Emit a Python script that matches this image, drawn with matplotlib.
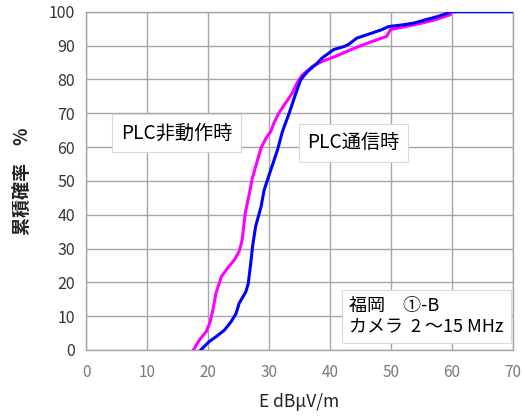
import matplotlib
matplotlib.use("Agg")
import matplotlib.pyplot as plt

plt.rcParams['font.family'] = ['Noto Sans CJK JP', 'DejaVu Sans']

# -----------------------------
# Data
# -----------------------------
off_x = [17.6, 18.6, 19.7, 20.3, 20.8, 21.3, 22.2, 23.2, 24.3, 25.1, 25.6, 26.1,
         26.8, 27.2, 27.8, 28.7, 29.5, 30.3, 30.8, 31.6, 32.7, 33.8, 34.6, 35.4,
         37.1, 38.7, 40.9, 42.8, 44.7, 46.9, 48.5, 49.3, 49.9, 52.3, 55.0, 57.2, 59.7]
off_y = [0, 3, 5.4, 8, 11.8, 16.8, 21.7, 24.2, 26.6, 29.1, 32.5, 40.4,
         46.4, 50.3, 54.2, 59.7, 62.6, 64.6, 67.1, 70, 73, 75.9, 78.9, 81.2,
         83.8, 85.3, 86.8, 88.3, 89.7, 91.2, 92.2, 92.7, 94.7, 95.6, 96.6, 97.6, 99.1]

on_x = [18.8, 20.2, 21.3, 22.7, 23.8, 24.6, 25.1, 26.2, 26.6, 27.0, 27.3, 27.8,
        28.7, 29.2, 30.3, 31.4, 32.2, 33.3, 34.4, 35.2, 36.3, 37.9, 38.7, 40.6,
        42.3, 43.1, 44.4, 46.9, 48.5, 49.6, 52.3, 53.9, 55.6, 57.7, 59.9, 70]
on_y = [0, 2.5, 3.9, 5.9, 8.4, 10.8, 13.8, 17.2, 19.7, 25.6, 30.6, 36.5,
        42.4, 47.3, 53.3, 59.2, 64.6, 70, 75.9, 79.9, 82.3, 84.8, 86.3, 88.8,
        89.7, 90.4, 92.2, 93.7, 94.7, 95.6, 96.2, 96.7, 97.6, 98.6, 100, 100]

x_ticks = [0, 10, 20, 30, 40, 50, 60, 70]
y_ticks = [0, 10, 20, 30, 40, 50, 60, 70, 80, 90, 100]

# -----------------------------
# Plot
# -----------------------------
fig = plt.figure(figsize=(5.22, 4.18), dpi=100)
ax = fig.add_axes([0.1648, 0.1627, 0.8180, 0.8093])

ax.plot(off_x, off_y, color='#ff00ff', lw=2.2, zorder=3)
ax.plot(on_x, on_y, color='#0000ff', lw=2.2, zorder=4)

ax.set_xlim(0, 70)
ax.set_ylim(0, 100)
ax.set_xticks(x_ticks)
ax.set_yticks(y_ticks)
ax.grid(True, color='#a6a6a6', lw=1.0)
ax.set_axisbelow(True)
for s in ax.spines.values():
    s.set_color('#a6a6a6')
    s.set_linewidth(1.0)
ax.tick_params(length=0)
ax.tick_params(axis='x', labelsize=11, labelcolor='#7a7a7a', pad=10)
ax.tick_params(axis='y', labelsize=11.5, labelcolor='#333333', pad=8)

ax.set_xlabel('E dBμV/m', fontsize=12.5, color='#222222', labelpad=9)
ax.set_ylabel('累積確率　%', fontsize=13, color='#222222', fontweight='bold', labelpad=12)

box = dict(boxstyle='square,pad=0.45', facecolor='white', edgecolor='#d9d9d9', lw=0.8)
ax.text(14.8, 64.2, 'PLC非動作時', fontsize=13.8, ha='center', va='center', bbox=box, zorder=5)
ax.text(43.8, 61.2, 'PLC通信時', fontsize=13.8, ha='center', va='center', bbox=box, zorder=5)
ax.text(43.1, 9.9, '福岡　①-B\nカメラ  2 ～15 MHz', fontsize=13, ha='left', va='center',
        linespacing=1.15, bbox=dict(boxstyle='square,pad=0.4', facecolor='white',
                                    edgecolor='#d9d9d9', lw=0.8), zorder=5)

fig.savefig('out.png', dpi=100)
